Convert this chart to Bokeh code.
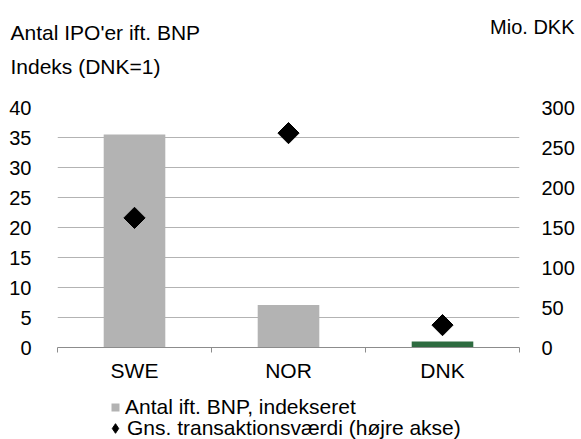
import math
from bokeh.plotting import figure
from bokeh.models import (Range1d, LinearAxis, FixedTicker, Label, Legend, LegendItem,
                          ColumnDataSource)
from bokeh.embed import file_html
from bokeh.resources import INLINE

categories = ["SWE", "NOR", "DNK"]
ipo_index = [35.5, 7.1, 1.0]
avg_value = [162, 268, 28]
bar_colors = ["#b3b3b3", "#b3b3b3", "#2e6b40"]

left_ticks = [0, 5, 10, 15, 20, 25, 30, 35, 40]
right_ticks = [0, 50, 100, 150, 200, 250, 300]

series_names = ["Antal ift. BNP, indekseret", "Gns. transaktionsværdi (højre akse)"]

FONT = "Liberation Sans"
FS_TICK = "20px"
FS = "21px"


def bare(fig):
    fig.outline_line_color = None
    fig.grid.visible = False
    fig.background_fill_color = "white"
    fig.border_fill_color = "white"


xpos = [i + 0.5 for i in range(len(categories))]
src = ColumnDataSource(dict(x=xpos, top=ipo_index, v=avg_value, color=bar_colors))

# ---- header with titles ----
head = figure(width=581, height=92, output_backend="svg", toolbar_location=None,
              x_range=Range1d(0, 1), y_range=Range1d(0, 1),
              min_border=0, x_axis_location=None, y_axis_location=None)
bare(head)
for txt, x, y, align, fs in [("Antal IPO'er ift. BNP", 10, 60, "left", FS),
                             ("Indeks (DNK=1)", 10, 26, "left", FS),
                             ("Mio. DKK", 574, 66, "right", "20px")]:
    head.add_layout(Label(x=x, y=y, x_units="screen", y_units="screen", text=txt,
                          text_font=FONT, text_font_size=fs, text_align=align,
                          text_baseline="middle", text_color="#000000"))

# ---- main chart ----
p = figure(width=581, height=293, output_backend="svg", toolbar_location=None,
           x_range=Range1d(0, 3), y_range=Range1d(0, 40),
           min_border_left=57, min_border_right=62, min_border_top=15, min_border_bottom=38,
           x_axis_location=None, y_axis_location=None)
p.outline_line_color = None
p.background_fill_color = "white"
p.border_fill_color = "white"
p.extra_y_ranges = {"right": Range1d(0, 300)}

p.xgrid.visible = False
p.ygrid.ticker = FixedTicker(ticks=left_ticks)
p.ygrid.grid_line_color = "#b3b3b3"
p.ygrid.grid_line_width = 1

la = LinearAxis(ticker=FixedTicker(ticks=left_ticks))
la.axis_line_color = None
la.major_tick_line_color = None
la.minor_tick_line_color = None
la.major_label_text_font = FONT
la.major_label_text_font_size = FS_TICK
la.major_label_text_color = "#000000"
la.major_label_standoff = 20
p.add_layout(la, "left")

ra = LinearAxis(y_range_name="right", ticker=FixedTicker(ticks=right_ticks))
ra.axis_line_color = None
ra.major_tick_line_color = None
ra.minor_tick_line_color = None
ra.major_label_text_font = FONT
ra.major_label_text_font_size = FS_TICK
ra.major_label_text_color = "#000000"
ra.major_label_standoff = 16
p.add_layout(ra, "right")

xa = LinearAxis(ticker=FixedTicker(ticks=xpos, minor_ticks=[0, 1, 2, 3]))
xa.major_label_overrides = {x: c for x, c in zip(xpos, categories)}
xa.axis_line_color = "#8c8c8c"
xa.major_tick_line_color = None
xa.minor_tick_line_color = "#8c8c8c"
xa.minor_tick_out = 5
xa.minor_tick_in = 0
xa.major_label_text_font = FONT
xa.major_label_text_font_size = FS
xa.major_label_text_color = "#000000"
xa.major_label_standoff = 5
p.add_layout(xa, "below")

p.vbar(x="x", top="top", width=0.4, bottom=0, fill_color="color",
       line_color=None, source=src)
p.scatter(x="x", y="v", y_range_name="right", marker="square", size=15,
          angle=math.pi / 4, fill_color="black", line_color="black", source=src)

# ---- footer legend (swatch renderers sit outside this strip's view) ----
foot = figure(width=581, height=54, output_backend="svg", toolbar_location=None,
              x_range=Range1d(100, 101), y_range=Range1d(100, 101),
              min_border=0, x_axis_location=None, y_axis_location=None)
bare(foot)
lg_bar = foot.scatter(x="x", y="top", marker="square", fill_color="color",
                      line_color=None, source=src)
lg_pt = foot.scatter(x="x", y="v", marker="diamond", fill_color="black",
                     line_color="black", source=src)

common = dict(orientation="vertical", label_text_font=FONT, label_text_font_size=FS,
              label_text_color="#000000", spacing=0, padding=0, margin=0,
              border_line_color=None, background_fill_alpha=0)
leg1 = Legend(items=[LegendItem(label=series_names[0], renderers=[lg_bar], index=0)],
              location=(105, 20), glyph_width=20, glyph_height=20, label_height=20,
              label_standoff=0, **common)
leg2 = Legend(items=[LegendItem(label=series_names[1], renderers=[lg_pt], index=0)],
              location=(103, -1), glyph_width=24, glyph_height=24, label_height=24,
              label_standoff=-5, **common)
foot.add_layout(leg1, "center")
foot.add_layout(leg2, "center")

open("out.html", "w").write(file_html([head, p, foot], INLINE))
